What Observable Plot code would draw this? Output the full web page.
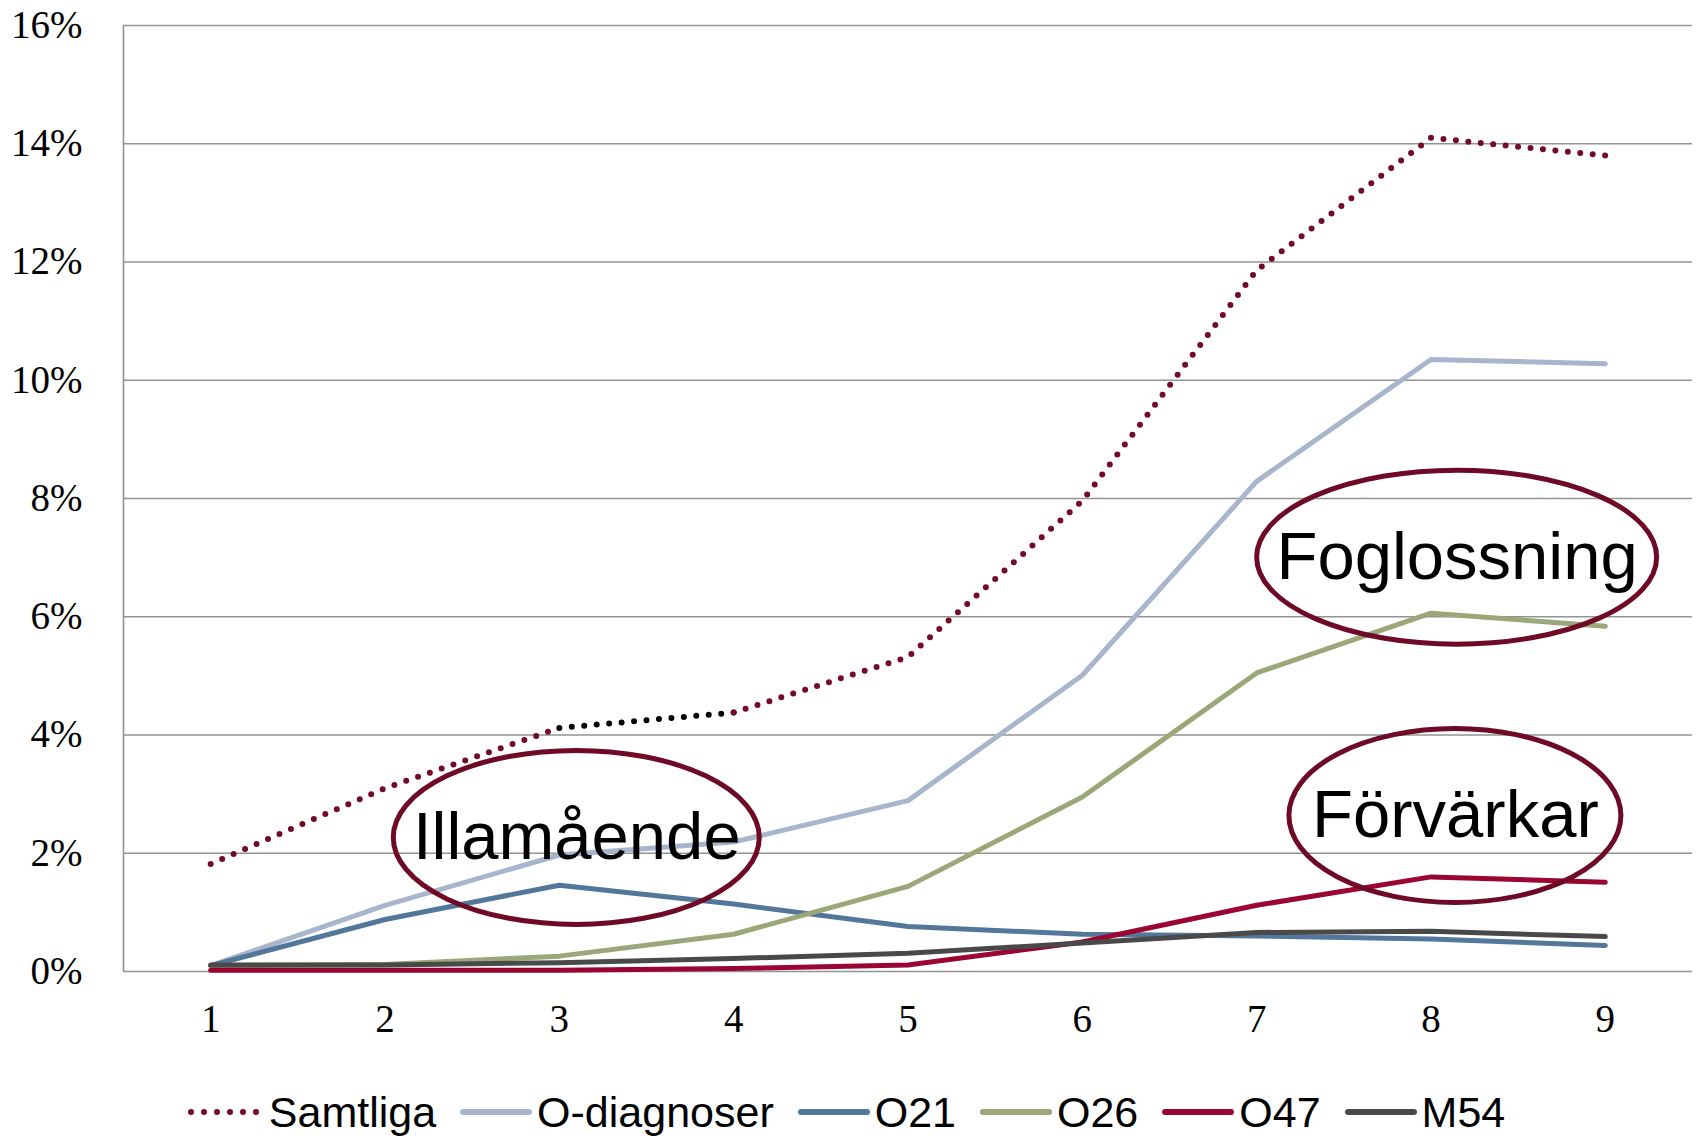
<!DOCTYPE html>
<html>
<head>
<meta charset="utf-8">
<script src="https://cdn.jsdelivr.net/npm/d3@7"></script>
<script src="https://cdn.jsdelivr.net/npm/@observablehq/plot@0.6"></script>
<style>
  html, body { margin: 0; padding: 0; background: #fff; }
  #chart { width: 1704px; }
  #legend {
    width: 1692px; height: 52px; padding-top: 20px; padding-right: 12px;
    display: flex; justify-content: center; align-items: center;
    font-family: "Liberation Sans", Arial, sans-serif; font-size: 43px; line-height: 1;
    color: #000;
  }
  .item { display: flex; align-items: center; margin: 0 12px; }
  .item svg { display: block; }
</style>
</head>
<body>
<div id="chart"></div>
<div id="legend"></div>
<script>
// ---- data ----
const xValues = [1, 2, 3, 4, 5, 6, 7, 8, 9];
const seriesNames = ["Samtliga", "O-diagnoser", "O21", "O26", "O47", "M54"];
const samtliga   = [1.82, 3.10, 4.12, 4.38, 5.32, 7.96, 11.86, 14.10, 13.80];
const oDiagnoser = [0.10, 1.12, 1.97, 2.19, 2.89, 5.01, 8.29, 10.35, 10.28];
const o21        = [0.10, 0.88, 1.46, 1.14, 0.76, 0.63, 0.60, 0.55, 0.44];
const o26        = [0.10, 0.12, 0.26, 0.63, 1.44, 2.95, 5.05, 6.06, 5.84];
const o47        = [0.02, 0.02, 0.02, 0.05, 0.11, 0.50, 1.12, 1.60, 1.51];
const m54        = [0.11, 0.11, 0.15, 0.22, 0.31, 0.48, 0.66, 0.68, 0.59];
const yTicks = [0, 2, 4, 6, 8, 10, 12, 14, 16];
const annotLabels = ["Illamående", "Foglossning", "Förvärkar"];
const annotX = [3.10, 8.15, 8.14];
const annotY = [2.26, 7.00, 2.63];
// part of the Samtliga line that is drawn in black in the original
const samtligaBlackFrom = 3, samtligaBlackTo = 4;

// ---- styles ----
const colors = {
  "Samtliga": "#730b27",
  "O-diagnoser": "#a7b6cd",
  "O21": "#52779a",
  "O26": "#9ca779",
  "O47": "#9a0631",
  "M54": "#494949"
};
const ellipseColor = "#6e0a25";
const ellipseRadii = [[183, 87], [200, 87], [166, 87]];

const seriesValues = [samtliga, oDiagnoser, o21, o26, o47, m54];
const rows = seriesNames.flatMap((name, s) =>
  xValues.map((x, i) => ({series: name, x, value: seriesValues[s][i]})));

const samtRows = rows.filter(d => d.series === "Samtliga");
const samtPieces = [
  ...samtRows.filter(d => d.x <= samtligaBlackFrom).map(d => ({...d, piece: "a"})),
  ...samtRows.filter(d => d.x >= samtligaBlackFrom && d.x <= samtligaBlackTo).map(d => ({...d, piece: "b"})),
  ...samtRows.filter(d => d.x >= samtligaBlackTo).map(d => ({...d, piece: "c"}))
];
const annots = annotLabels.map((label, i) => ({label, x: annotX[i], y: annotY[i], rx: ellipseRadii[i][0], ry: ellipseRadii[i][1]}));

const solidSeries = seriesNames.slice(1);

const ellipseMark = (index, scales) => {
  const g = d3.create("svg:g");
  for (const a of annots) {
    g.append("ellipse")
      .attr("cx", scales.x(a.x)).attr("cy", scales.y(a.y))
      .attr("rx", a.rx).attr("ry", a.ry)
      .attr("fill", "none").attr("stroke", ellipseColor).attr("stroke-width", 5);
  }
  return g.node();
};

const chart = Plot.plot({
  width: 1704,
  height: 1066,
  marginLeft: 123,
  marginRight: 12,
  marginTop: 25,
  marginBottom: 95,
  style: {fontFamily: "'Liberation Serif', 'Times New Roman', serif", fontSize: "39px", color: "#000", background: "#fff", overflow: "visible"},
  x: {domain: [0.5, 9.5], ticks: xValues, tickFormat: d => String(d), tickSize: 0, tickPadding: 33, label: null},
  y: {domain: [0, 16], ticks: yTicks, tickFormat: d => d + "%", tickSize: 0, tickPadding: 41, label: null},
  marks: [
    Plot.ruleY(yTicks, {stroke: "#939393", strokeWidth: 1.6}),
    Plot.ruleX([0.5], {stroke: "#939393", strokeWidth: 1.6}),
    Plot.line(samtPieces, {
      x: "x", y: "value", z: "piece",
      stroke: d => d.piece === "b" ? "#000" : colors["Samtliga"],
      strokeWidth: 6, strokeDasharray: "0 12.5", strokeLinecap: "round"
    }),
    ...solidSeries.map(name => Plot.line(rows.filter(d => d.series === name), {
      x: "x", y: "value", stroke: colors[name], strokeWidth: 5, strokeLinecap: "round", strokeLinejoin: "round"
    })),
    ellipseMark,
    Plot.text(annots, {
      x: "x", y: "y", text: "label",
      fontFamily: "'Liberation Sans', Arial, sans-serif", fontSize: 67, fill: "#000"
    })
  ]
});
document.getElementById("chart").appendChild(chart);

// ---- legend ----
const legend = d3.select("#legend");
seriesNames.forEach(name => {
  const item = legend.append("div").attr("class", "item");
  const svg = item.append("svg").attr("width", 72).attr("height", 12);
  if (name === "Samtliga") {
    svg.append("line").attr("x1", 4).attr("x2", 69.5).attr("y1", 6).attr("y2", 6)
      .attr("stroke", colors[name]).attr("stroke-width", 6)
      .attr("stroke-dasharray", "0 13").attr("stroke-linecap", "round");
  } else {
    svg.append("line").attr("x1", 3).attr("x2", 69).attr("y1", 6).attr("y2", 6)
      .attr("stroke", colors[name]).attr("stroke-width", 6).attr("stroke-linecap", "round");
  }
  item.append("span").text(name).style("margin-left", name === "Samtliga" ? "10px" : "5px");
});
</script>
</body>
</html>
